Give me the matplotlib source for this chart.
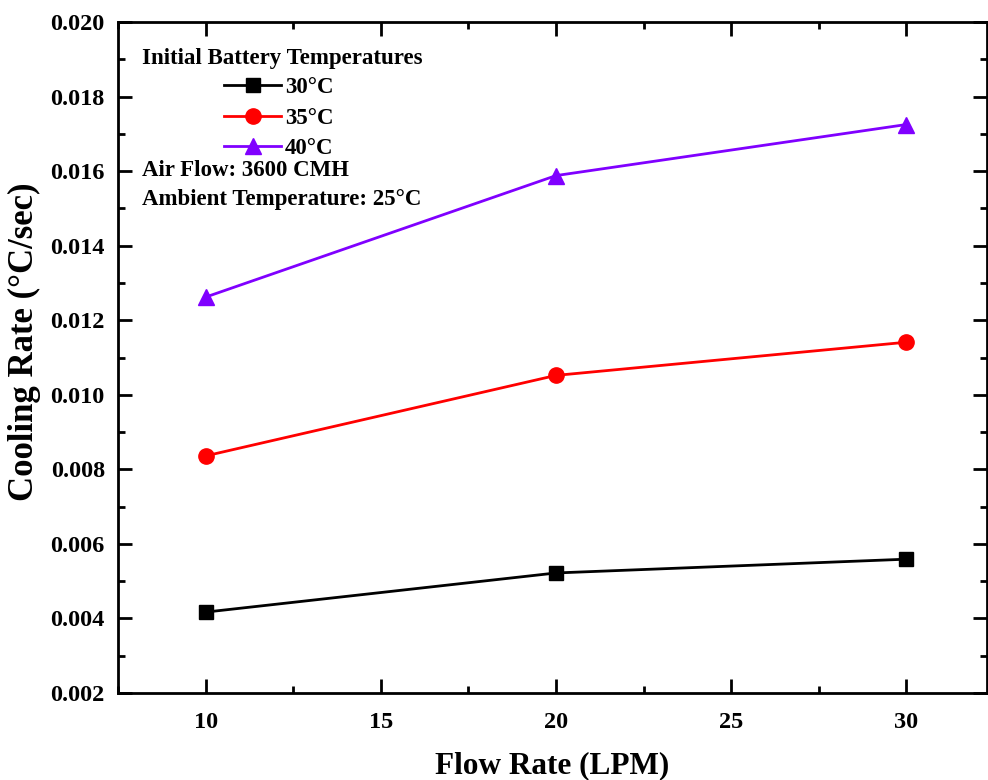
import matplotlib
matplotlib.use("Agg")
import matplotlib.pyplot as plt
from matplotlib.ticker import MultipleLocator

# Datos
flow_rate = [10, 20, 30]
rate_30 = [0.00417, 0.00522, 0.00559]
rate_35 = [0.00836, 0.01052, 0.01141]
rate_40 = [0.01262, 0.01588, 0.01725]
series_labels = ["30°C", "35°C", "40°C"]

plt.rcParams['font.family'] = ['Liberation Serif', 'DejaVu Serif']
plt.rcParams['font.weight'] = 'bold'

fig = plt.figure(figsize=(9.88, 7.8), dpi=100)
ax = fig.add_axes([118/988, 87/780, 869/988, 671/780])

ax.plot(flow_rate, rate_30, color='black', marker='s', markersize=10, lw=2, label=series_labels[0])
ax.plot(flow_rate, rate_35, color='red', marker='o', markersize=11, lw=2, label=series_labels[1])
ax.plot(flow_rate, rate_40, color='#8000FF', marker='^', markersize=12, lw=2, label=series_labels[2])

ax.set_xlim(7.5, 32.3)
ax.set_ylim(0.002, 0.020)
ax.xaxis.set_major_locator(MultipleLocator(5))
ax.xaxis.set_minor_locator(MultipleLocator(2.5))
ax.yaxis.set_major_locator(MultipleLocator(0.002))
ax.yaxis.set_minor_locator(MultipleLocator(0.001))
ax.yaxis.set_major_formatter(matplotlib.ticker.FormatStrFormatter('%.3f'))

ax.tick_params(which='both', direction='in', top=True, right=True, width=2)
ax.tick_params(which='major', length=10, labelsize=17.5, pad=9.5)
ax.tick_params(axis='x', which='major', pad=14)
ax.tick_params(which='minor', length=5)
for lbl in ax.get_xticklabels() + ax.get_yticklabels():
    lbl.set_fontweight('bold')
for s in ax.spines.values():
    s.set_linewidth(2)

ax.set_xlabel("Flow Rate (LPM)", fontsize=22.5, fontweight='bold', labelpad=13)
ax.set_ylabel("Cooling Rate (°C/sec)", fontsize=25, fontweight='bold')
ax.yaxis.set_label_coords(-0.089, 0.523)

fs = 16.5
ax.text(0.028, 0.946, "Initial Battery Temperatures", transform=ax.transAxes,
        fontsize=fs, fontweight='bold', va='center', ha='left')
leg = ax.legend(loc='upper left', bbox_to_anchor=(0.122, 0.918), frameon=False,
                prop={'size': fs, 'weight': 'bold'}, handlelength=2.5,
                handletextpad=0.15, labelspacing=0.42, borderaxespad=0, borderpad=0)
ax.text(0.028, 0.778, "Air Flow: 3600 CMH", transform=ax.transAxes,
        fontsize=fs, fontweight='bold', va='center', ha='left')
ax.text(0.028, 0.735, "Ambient Temperature: 25°C", transform=ax.transAxes,
        fontsize=fs, fontweight='bold', va='center', ha='left')

fig.savefig("out.png", dpi=100)
